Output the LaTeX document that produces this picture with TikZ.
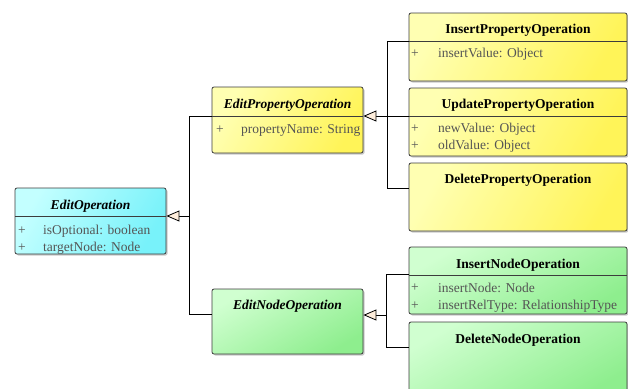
\documentclass[tikz,border=0pt]{standalone}
\usepackage{fontspec}
\setmainfont{Liberation Serif}
\newfontfamily\umlfont{Liberation Serif}
\usetikzlibrary{arrows.meta,shadows}
\definecolor{cyanL}{RGB}{195,255,255}
\definecolor{cyanD}{RGB}{120,242,250}
\definecolor{yelL}{RGB}{255,255,178}
\definecolor{yelD}{RGB}{255,244,88}
\definecolor{grnL}{RGB}{208,255,208}
\definecolor{grnD}{RGB}{142,238,142}
\definecolor{boxline}{RGB}{60,60,60}
\definecolor{attrgray}{RGB}{85,85,85}
\definecolor{triFill}{RGB}{255,238,220}
\begin{document}
\begin{tikzpicture}[x=1pt,y=-1pt,
  box/.style={draw=boxline, line width=0.8pt, rounded corners=2pt, inner sep=0pt,
    drop shadow={shadow xshift=1.5pt, shadow yshift=-1.5pt, opacity=0.35, fill=black!60}},
  cyanbox/.style={box, left color=cyanL, right color=cyanD, shading angle=60},
  yelbox/.style={box, left color=yelL, right color=yelD, shading angle=60},
  grnbox/.style={box, top color=grnL, bottom color=grnD, shading angle=30},
  divline/.style={draw=boxline, line width=0.8pt},
  title/.style={font=\umlfont\fontsize{13.5}{15}\selectfont\bfseries, inner sep=0pt},
  atitle/.style={font=\umlfont\fontsize{13.5}{15}\selectfont\bfseries\itshape, inner sep=0pt},
  plus/.style={font=\umlfont\fontsize{13.5}{15}\selectfont, text=attrgray, inner sep=0pt},
  attr/.style={font=\umlfont\fontsize{13.5}{15}\selectfont, text=attrgray, inner sep=0pt, anchor=west},
  conn/.style={draw=black, line width=0.8pt},
  gen/.style={conn, -{Triangle[open, length=13pt, width=11pt, fill=triFill, line width=0.8pt]}}
]
\useasboundingbox (0,0) rectangle (628,388);

% ---------- EditOperation ----------
\node[cyanbox, minimum width=151pt, minimum height=66pt] (eo) at (90.5,221) {};
\draw[divline] (15,216) -- (166,216);
\node[atitle] (eot) at (90.5,206.5) {EditOperation};
\node[plus] (eop1) at (22,231) {+};
\node[attr] (eoa1) at (43,231) {isOptional: boolean};
\node[plus] (eop2) at (22,248) {+};
\node[attr] (eoa2) at (43,248) {targetNode: Node};

% ---------- EditPropertyOperation ----------
\node[yelbox, minimum width=151pt, minimum height=66pt] (epo) at (287.5,120) {};
\draw[divline] (212,116) -- (363,116);
\node[atitle] (epot) at (287.5,105.5) {EditPropertyOperation};
\node[plus] (epop1) at (220,130) {+};
\node[attr] (epoa1) at (241,130) {propertyName: String};

% ---------- EditNodeOperation ----------
\node[grnbox, minimum width=151pt, minimum height=65pt] (eno) at (287.5,321.5) {};
\node[atitle] (enot) at (287.5,306.5) {EditNodeOperation};

% ---------- InsertPropertyOperation ----------
\node[yelbox, minimum width=218pt, minimum height=68pt] (ipo) at (518,47) {};
\draw[divline] (409,41) -- (627,41);
\node[title] (ipot) at (518,30.5) {InsertPropertyOperation};
\node[plus] (ipop1) at (415,54) {+};
\node[attr] (ipoa1) at (438,54) {insertValue: Object};

% ---------- UpdatePropertyOperation ----------
\node[yelbox, minimum width=218pt, minimum height=68pt] (upo) at (518,122) {};
\draw[divline] (409,116) -- (627,116);
\node[title] (upot) at (518,105.5) {UpdatePropertyOperation};
\node[plus] (upop1) at (415,129) {+};
\node[attr] (upoa1) at (438,129) {newValue: Object};
\node[plus] (upop2) at (415,146) {+};
\node[attr] (upoa2) at (438,146) {oldValue: Object};

% ---------- DeletePropertyOperation ----------
\node[yelbox, minimum width=218pt, minimum height=68pt] (dpo) at (518,197) {};
\node[title] (dpot) at (518,180.5) {DeletePropertyOperation};

% ---------- InsertNodeOperation ----------
\node[grnbox, minimum width=218pt, minimum height=67pt] (ino) at (518,280.5) {};
\draw[divline] (409,275) -- (627,275);
\node[title] (inot) at (518,265) {InsertNodeOperation};
\node[plus] (inop1) at (415,288) {+};
\node[attr] (inoa1) at (438,288) {insertNode: Node};
\node[plus] (inop2) at (415,306) {+};
\node[attr] (inoa2) at (438,306) {insertRelType: RelationshipType};

% ---------- DeleteNodeOperation ----------
\node[grnbox, minimum width=218pt, minimum height=76pt] (dno) at (518,360) {};
\node[title] (dnot) at (518,340.5) {DeleteNodeOperation};

% ---------- generalisation connectors ----------
\coordinate (j1) at (189,216);
\coordinate (k1) at (189,116);
\coordinate (k2) at (189,314);
\draw[conn] (k1 -| epo.west) -- (k1) -- (k2) -- (k2 -| eno.west);
\draw[gen] (j1) -- (j1 -| eo.east);

\coordinate (j2) at (387,116);
\coordinate (m1) at (387,41);
\coordinate (m3) at (387,188);
\draw[conn] (m1 -| ipo.west) -- (m1) -- (m3) -- (m3 -| dpo.west);
\draw[conn] (j2) -- (j2 -| upo.west);
\draw[gen] (j2) -- (j2 -| epo.east);

\coordinate (j3) at (386,315);
\coordinate (n1) at (386,274);
\coordinate (n2) at (386,347);
\draw[conn] (n1 -| ino.west) -- (n1) -- (n2) -- (n2 -| dno.west);
\draw[gen] (j3) -- (j3 -| eno.east);
\end{tikzpicture}
\end{document}
